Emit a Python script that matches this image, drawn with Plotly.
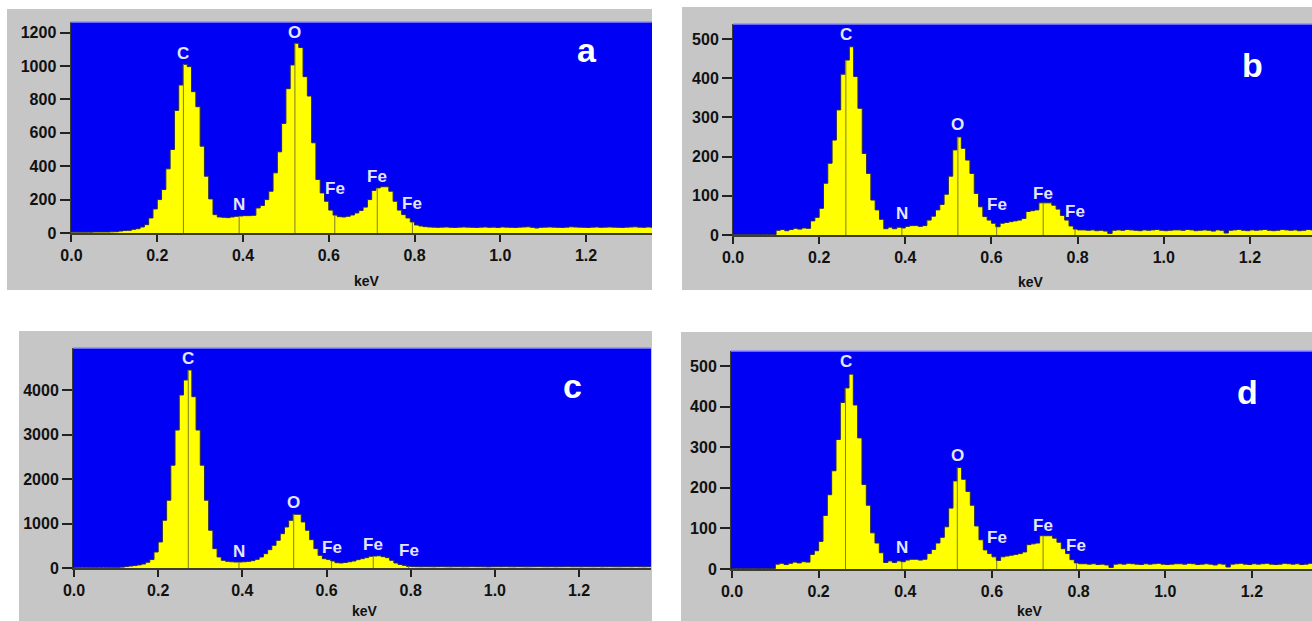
import plotly.graph_objects as go

# ---------------- data ----------------
BIN_KEV = 0.01  # channel width of the EDS spectra

counts_a = [
    5, 5, 5, 5, 5, 6, 6, 6, 6, 7,
    8, 12, 15, 16, 22, 26, 36, 50, 90, 144,
    200, 260, 384, 500, 734, 886, 1010, 996, 846, 756,
    520, 340, 204, 110, 96, 94, 92, 96, 100, 102,
    104, 104, 106, 150, 165, 200, 250, 360, 486, 656,
    864, 1006, 1136, 1110, 936, 820, 540, 320, 240, 190,
    137, 107, 98, 96, 100, 108, 120, 135, 155, 200,
    255, 270, 277, 277, 250, 190, 137, 110, 90, 66,
    48, 42, 38, 36, 35, 34, 35, 36, 34, 33,
    35, 36, 35, 34, 33, 35, 36, 34, 35, 33,
    36, 35, 34, 33, 35, 36, 37, 34, 30, 34,
    35, 36, 35, 34, 33, 35, 37, 36, 35, 34,
    33, 35, 36, 34, 35, 36, 35, 34, 33, 35,
    36, 37, 35, 34, 36, 35,
]

counts_b = [
    1, 1, 1, 1, 1, 1, 1, 1, 1, 1,
    12, 14, 11, 14, 17, 15, 18, 17, 36, 45,
    68, 132, 183, 242, 319, 410, 446, 480, 404, 323,
    208, 157, 89, 64, 40, 16, 20, 16, 20, 18,
    22, 24, 24, 22, 24, 38, 48, 64, 78, 104,
    150, 217, 250, 221, 191, 157, 106, 72, 47, 38,
    30, 21, 30, 32, 34, 36, 38, 42, 60, 62,
    64, 82, 82, 82, 76, 66, 50, 38, 23, 15,
    13, 13, 12, 13, 11, 12, 10, 4, 12, 13,
    12, 14, 13, 12, 11, 13, 12, 13, 14, 12,
    11, 12, 13, 13, 12, 14, 13, 11, 12, 13,
    12, 10, 13, 12, 5, 12, 13, 14, 12, 11,
    13, 12, 13, 14, 12, 11, 12, 14, 13, 12,
    13, 11, 12, 14, 13,
]

counts_c = [
    15, 15, 15, 15, 15, 15, 15, 15, 15, 15,
    15, 20, 35, 45, 55, 70, 90, 130, 190, 360,
    585, 1073, 1523, 2311, 3100, 3888, 4225, 4450, 3850, 3100,
    2311, 1523, 848, 435, 248, 173, 150, 140, 135, 135,
    140, 150, 165, 195, 247, 322, 412, 510, 622, 772,
    922, 1072, 1208, 1208, 1035, 848, 637, 435, 285, 210,
    190, 158, 120, 113, 125, 140, 158, 188, 210, 233,
    263, 270, 275, 255, 233, 173, 113, 80, 60, 38,
    32, 30, 28, 30, 29, 27, 30, 31, 28, 26,
    29, 30, 27, 28, 31, 30, 29, 27, 25, 28,
    30, 29, 31, 28, 27, 30, 29, 26, 28, 30,
    31, 29, 28, 30, 27, 29, 30, 31, 28, 29,
    27, 30, 29, 28, 30, 26, 29, 30, 28, 27,
    29, 30, 28, 31, 29, 27, 30, 28,
]

# panel d shows the same spectrum as panel b
counts_d = [
    1, 1, 1, 1, 1, 1, 1, 1, 1, 1,
    12, 14, 11, 14, 17, 15, 18, 17, 36, 45,
    68, 132, 183, 242, 319, 410, 446, 480, 404, 323,
    208, 157, 89, 64, 40, 16, 20, 16, 20, 18,
    22, 24, 24, 22, 24, 38, 48, 64, 78, 104,
    150, 217, 250, 221, 191, 157, 106, 72, 47, 38,
    30, 21, 30, 32, 34, 36, 38, 42, 60, 62,
    64, 82, 82, 82, 76, 66, 50, 38, 23, 15,
    13, 13, 12, 13, 11, 12, 10, 4, 12, 13,
    12, 14, 13, 12, 11, 13, 12, 13, 14, 12,
    11, 12, 13, 13, 12, 14, 13, 11, 12, 13,
    12, 10, 13, 12, 5, 12, 13, 14, 12, 11,
    13, 12, 13, 14, 12, 11, 12, 14, 13, 12,
    13, 11, 12, 14, 13,
]

element_names = ["C", "N", "O", "Fe", "Fe", "Fe"]
line_kev_a = [0.261, 0.391, 0.521, 0.614, 0.713, 0.795]
line_kev_b = [0.262, 0.392, 0.522, 0.612, 0.720, 0.794]
line_kev_c = [0.2715, 0.392, 0.522, 0.612, 0.711, 0.795]
line_kev_d = [0.262, 0.392, 0.520, 0.611, 0.718, 0.795]

# heights (in counts) of the centre of each element label
label_cts_a = [1077, 168, 1200, 269, 341, 174]
label_cts_b = [510, 56, 281, 79, 107, 59]
label_cts_c = [4697, 382, 1476, 457, 533, 390]
label_cts_d = [511, 53, 280, 78, 107, 57]

x_tick_vals = [0.0, 0.2, 0.4, 0.6, 0.8, 1.0, 1.2]
x_tick_text = ["0.0", "0.2", "0.4", "0.6", "0.8", "1.0", "1.2"]
y_ticks_a = [0, 200, 400, 600, 800, 1000, 1200]
y_ticks_b = [0, 100, 200, 300, 400, 500]
y_ticks_c = [0, 1000, 2000, 3000, 4000]
y_ticks_d = [0, 100, 200, 300, 400, 500]
panel_letters = ["a", "b", "c", "d"]
x_title = "keV"

# ---------------- layout / style ----------------
W, H = 1312, 621
BLUE = "#0000f4"
YELLOW = "#ffff00"
GRAY = "#c6c6c6"
MARKER = "#7d7d2a"
LABEL_COL = "#e4e6ff"
FONT = "Liberation Sans"


def px_x(p):
    return p / W


def px_y(p):
    return 1 - p / H


# per panel: plot rect (px), gray frame (px), x range, y range
panels = [
    dict(counts=counts_a, lines=line_kev_a, labs=label_cts_a, yt=y_ticks_a,
         plot=(70.5, 22, 652, 233), frame=(7, 9, 652, 290),
         xr=[-0.0023, 1.3537], yr=[0, 1263],
         letter=(587, 50), kev=(367, 281)),
    dict(counts=counts_b, lines=line_kev_b, labs=label_cts_b, yt=y_ticks_b,
         plot=(733, 24, 1312, 235), frame=(682, 7, 1312, 290),
         xr=[0.0, 1.344], yr=[0, 538],
         letter=(1252, 65), kev=(1031, 282)),
    dict(counts=counts_c, lines=line_kev_c, labs=label_cts_c, yt=y_ticks_c,
         plot=(73, 348, 651, 568), frame=(19, 331, 652, 621),
         xr=[-0.0024, 1.371], yr=[0, 4944],
         letter=(572, 386), kev=(365, 611)),
    dict(counts=counts_d, lines=line_kev_d, labs=label_cts_d, yt=y_ticks_d,
         plot=(731, 351, 1312, 569), frame=(681, 332, 1312, 621),
         xr=[-0.0023, 1.3386], yr=[0, 537],
         letter=(1247, 392), kev=(1030, 611)),
]

fig = go.Figure()
shapes = []
annotations = []
layout_axes = {}

for k, p in enumerate(panels):
    n = "" if k == 0 else str(k + 1)
    xa, ya = "x" + n, "y" + n
    cnt = p["counts"]
    edges = [i * BIN_KEV for i in range(len(cnt) + 1)]
    fig.add_trace(go.Scatter(
        x=edges, y=cnt + [cnt[-1]], xaxis=xa, yaxis=ya,
        mode="lines", line=dict(shape="hv", color="#2a2a55", width=1),
        fill="tozeroy", fillcolor=YELLOW, hoverinfo="skip", showlegend=False,
    ))

    x0, y0, x1, y1 = p["plot"]
    fx0, fy0, fx1, fy1 = p["frame"]
    # gray frame
    shapes.append(dict(type="rect", xref="paper", yref="paper", layer="below",
                       x0=px_x(fx0), x1=px_x(fx1), y0=px_y(fy1), y1=px_y(fy0),
                       fillcolor=GRAY, line=dict(width=0)))
    # blue plotting area
    shapes.append(dict(type="rect", xref=xa + " domain", yref=ya + " domain",
                       layer="below", x0=0, x1=1, y0=0, y1=1,
                       fillcolor=BLUE, line=dict(width=0)))
    shapes.append(dict(type="line", xref=xa + " domain", yref=ya + " domain",
                       x0=0, x1=1, y0=1, y1=1,
                       line=dict(color="#8c8cff", width=1.5)))
    # element marker lines (from baseline up to the spectrum)
    for e in p["lines"]:
        h = cnt[int(e / BIN_KEV + 1e-6)]
        shapes.append(dict(type="line", xref=xa, yref=ya, x0=e, x1=e, y0=0, y1=h,
                           line=dict(color=MARKER, width=1)))
    # element labels
    for name, e, yl in zip(element_names, p["lines"], p["labs"]):
        annotations.append(dict(xref=xa, yref=ya, x=e, y=yl, text=name,
                                showarrow=False, xanchor="center", yanchor="middle",
                                font=dict(family=FONT, size=17, color=LABEL_COL,
                                          weight="bold")))
    # panel letter
    lx, ly = p["letter"]
    annotations.append(dict(xref="paper", yref="paper", x=px_x(lx), y=px_y(ly),
                            text=panel_letters[k], showarrow=False,
                            xanchor="center", yanchor="middle",
                            font=dict(family=FONT, size=34, color="white",
                                      weight="bold")))
    # axis title
    kx, ky = p["kev"]
    annotations.append(dict(xref="paper", yref="paper", x=px_x(kx), y=px_y(ky),
                            text=x_title, showarrow=False,
                            xanchor="center", yanchor="middle",
                            font=dict(family=FONT, size=14, color="#111",
                                      weight="bold")))

    layout_axes["xaxis" + n] = dict(
        domain=[px_x(x0), px_x(x1)], range=p["xr"], anchor=ya,
        showgrid=False, zeroline=False, showline=True, linecolor="#3c3c30",
        linewidth=2, ticks="outside", ticklen=7, tickwidth=1.5,
        tickcolor="#222", tickvals=x_tick_vals, ticktext=x_tick_text,
        tickfont=dict(family=FONT, size=16, color="#111", weight="bold"),
        fixedrange=True, automargin=False,
    )
    layout_axes["yaxis" + n] = dict(
        domain=[px_y(y1), px_y(y0)], range=p["yr"], anchor=xa,
        showgrid=False, zeroline=False, showline=True, linecolor="#3c3c30",
        linewidth=1, ticks="outside", ticklen=10, tickwidth=1.5,
        tickcolor="#222", tickvals=p["yt"],
        tickfont=dict(family=FONT, size=16, color="#111", weight="bold"),
        fixedrange=True, automargin=False,
    )

fig.update_layout(
    width=W, height=H, margin=dict(l=0, r=0, t=0, b=0, autoexpand=False),
    paper_bgcolor="white", plot_bgcolor="rgba(0,0,0,0)",
    shapes=shapes, annotations=annotations, showlegend=False,
    **layout_axes,
)

fig.write_html(
    "out.html",
    config={"displayModeBar": False},
    post_script="document.body.style.margin='0';document.body.style.overflow='hidden';",
)
